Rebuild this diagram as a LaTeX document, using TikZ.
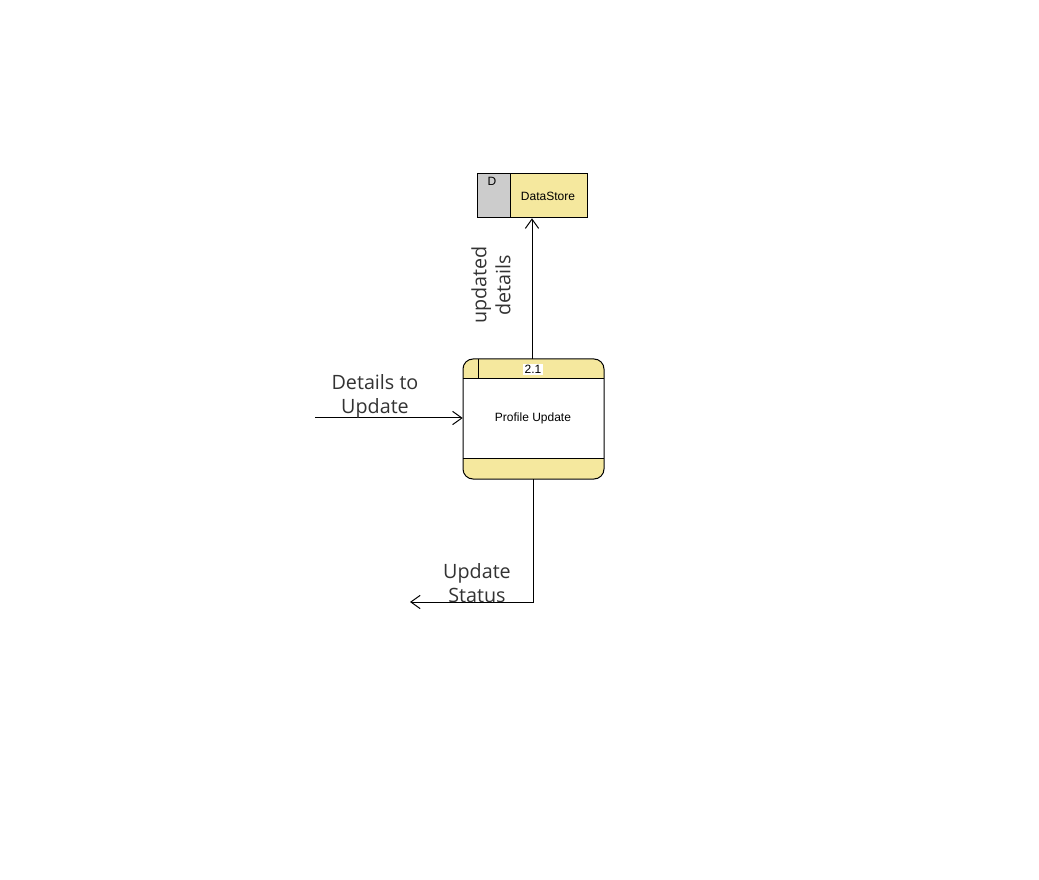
\documentclass[tikz,border=0pt]{standalone}
\usepackage{fontspec}
\setmainfont{Liberation Sans}
\newfontfamily\labelfont{Open Sans}
\usetikzlibrary{arrows.meta}
\definecolor{dsyellow}{HTML}{F5E89E}
\definecolor{dsgray}{HTML}{CCCCCC}
\definecolor{lbl}{HTML}{333333}
\tikzset{
  flow/.style={draw=black, line width=0.75pt, -{Straight Barb[length=7pt,width=10pt,line width=0.75pt]}},
  biglabel/.style={text=lbl, font=\labelfont\fontsize{14.8pt}{18pt}\selectfont, align=center, inner sep=0pt},
  smalltext/.style={font=\fontsize{9pt}{10pt}\selectfont, inner sep=0pt},
  outline/.style={draw=black, line width=0.75pt}
}
\begin{document}
\begin{tikzpicture}[x=0.75pt,y=-0.75pt]
\useasboundingbox (0,0) rectangle (1039,880);
% DataStore
\fill[dsyellow] (510,174) rectangle (587,218);
\fill[dsgray] (477,174) rectangle (510,218);
\draw[outline] (477,174) rectangle (587,218);
\draw[outline] (510,174) -- (510,218);
\node[smalltext] (dsd) at (492,181) {D};
\node[minimum width=110*0.75pt, minimum height=44*0.75pt, inner sep=0pt] (ds) at (532,196) {};
\node[smalltext] (dslabel) at (548,196.5) {DataStore};
% Process
\begin{scope}
\clip[rounded corners=7.5pt] (463,359) rectangle (604,479);
\fill[white] (463,359) rectangle (604,479);
\fill[dsyellow] (463,359) rectangle (604,379);
\fill[dsyellow] (463,459) rectangle (604,479);
\end{scope}
\draw[outline, rounded corners=7.5pt] (463,359) rectangle (604,479);
\draw[outline] (463,379) -- (604,379);
\draw[outline] (463,459) -- (604,459);
\draw[outline] (478,359) -- (478,379);
\node[smalltext, fill=white, inner sep=1pt] (num) at (533,369.5) {2.1};
\node[smalltext] (plabel) at (533,418) {Profile Update};
\node[minimum width=141*0.75pt, minimum height=120*0.75pt, inner sep=0pt] (proc) at (533.5,419) {};
% coordinates
\coordinate (in) at (315,418);
\coordinate (bend) at (533,602);
\coordinate (out) at (410,602);
% flows
\draw[flow] (proc.north -| ds.south) -- (ds.south);
\draw[flow] (in) -- (proc.west |- in);
\draw[flow] (proc.south -| bend) -- (bend) -- (out);
% labels
\node[biglabel, rotate=90] (l1) at (491,285) {updated\\details};
\node[biglabel] (l2) at (375,396) {Details to\\Update};
\node[biglabel] (l3) at (477,583) {Update\\Status};
\end{tikzpicture}
\end{document}
